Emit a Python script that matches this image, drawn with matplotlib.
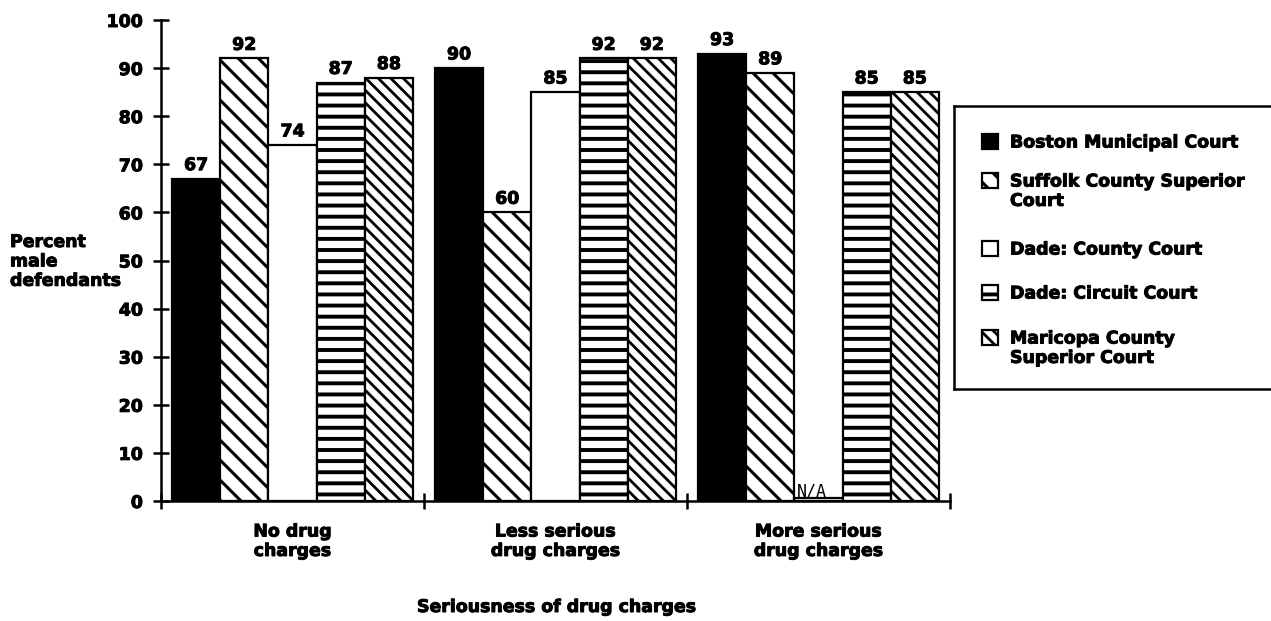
import matplotlib
matplotlib.use("Agg")
import matplotlib.pyplot as plt
import matplotlib.hatch as mhatch
import matplotlib.patheffects as pe
from matplotlib.patches import Rectangle

# ---- data -------------------------------------------------------------
groups = ["No drug\ncharges", "Less serious\ndrug charges", "More serious\ndrug charges"]
courts = [
    "Boston Municipal Court",
    "Suffolk County Superior\nCourt",
    "Dade: County Court",
    "Dade: Circuit Court",
    "Maricopa County\nSuperior Court",
]
boston = [67, 90, 93]
suffolk = [92, 60, 89]
dade_county = [74, 85, None]      # no figure for more serious charges
dade_circuit = [87, 92, 85]
maricopa = [88, 92, 85]
yticks = list(range(0, 101, 10))

series = [boston, suffolk, dade_county, dade_circuit, maricopa]


# ---- hatch patterns: denser rules than the stock ones -----------------
class RuleHatch(mhatch.HorizontalHatch):
    def __init__(self, hatch, density):
        self.num_lines = int(hatch.count("-") * 9)
        self.num_vertices = self.num_lines * 2


class BackslashHatch(mhatch.SouthEastHatch):
    def __init__(self, hatch, density):
        n = hatch.count("\\")
        self.num_lines = 6 * n - 2 if n else 0
        self.num_vertices = (self.num_lines + 1) * 2 if self.num_lines else 0


mhatch._hatch_types = [
    RuleHatch if t is mhatch.HorizontalHatch
    else BackslashHatch if t is mhatch.SouthEastHatch
    else t
    for t in mhatch._hatch_types
]

faces = ["black", "white", "white", "white", "white"]
hatches = [None, "\\\\", None, "-", "\\\\\\"]
hatch_lw = [2.2, 2.2, 2.2, 2.8, 2.0]

FONT = "DejaVu Sans"
FS = 12.5
LS = 1.1
NA_STUB = 0.6
HEAVY = [pe.withStroke(linewidth=0.7, foreground="black")]

plt.rcParams["font.family"] = FONT
plt.rcParams["font.weight"] = "bold"
plt.rcParams["hatch.color"] = "black"
plt.rcParams["hatch.linewidth"] = 2.2

W, H = 1271, 621
fig = plt.figure(figsize=(W / 100, H / 100), dpi=100)
fig.patch.set_facecolor("white")

ax = fig.add_axes([161 / W, 1 - 501 / H, (950 - 161) / W, (501 - 20) / H])

bw = 0.1833
for i, vals in enumerate(series):
    xs = [g + (i - 2) * bw for g in range(len(groups))]
    heights = [NA_STUB if v is None else v for v in vals]
    bars = ax.bar(xs, heights, width=bw, color=faces[i], edgecolor="black",
                  linewidth=1.6, hatch=hatches[i], zorder=2)
    for b in bars:
        if hasattr(b, "set_hatch_linewidth"):
            b.set_hatch_linewidth(hatch_lw[i])
    for x, v, h in zip(xs, vals, heights):
        if v is None:
            ax.annotate("N/A", (x, h), xytext=(-4.5, 1.0), textcoords="offset points",
                        ha="center", va="baseline", fontsize=12,
                        family="DejaVu Sans Mono", fontweight="normal")
        else:
            ax.annotate(f"{v}", (x, h), xytext=(0, 6.2), textcoords="offset points",
                        ha="center", va="baseline", fontsize=FS, fontweight="bold",
                        path_effects=HEAVY)

ax.set_xlim(-0.5, 2.5)
ax.set_ylim(0, 100)
ax.set_yticks(yticks)
ax.set_yticklabels([str(t) for t in yticks], fontsize=FS, fontweight="bold")
ax.set_xticks(range(len(groups)))
ax.set_xticklabels(groups, fontsize=FS, fontweight="bold")
for t in ax.get_xticklabels():
    t.set_linespacing(LS)
for t in ax.get_xticklabels() + ax.get_yticklabels():
    t.set_path_effects(HEAVY)
ax.set_xticks([-0.5, 0.5, 1.5, 2.5], minor=True)

ax.tick_params(axis="y", direction="inout", length=12, width=1.8, pad=7)
ax.tick_params(axis="x", which="major", length=0, pad=15.5)
ax.tick_params(axis="x", which="minor", direction="inout", length=12, width=1.8)

for side in ("top", "right"):
    ax.spines[side].set_visible(False)
for side in ("left", "bottom"):
    ax.spines[side].set_linewidth(1.8)
ax.set_facecolor("none")

# axis titles
fig.text(10 / W, 1 - 233 / H, "Percent\nmale\ndefendants", ha="left", va="top",
         fontsize=FS, fontweight="bold", linespacing=LS, path_effects=HEAVY)
fig.text(417 / W, 1 - 607 / H, "Seriousness of drug charges", ha="left", va="center",
         fontsize=FS, fontweight="bold", path_effects=HEAVY)

# ---- legend box ---------------------------------------------------------
TOP, BOTTOM, LEFT = 106, 389, 954
lax = fig.add_axes([LEFT / W, 1 - BOTTOM / H, 330 / W, (BOTTOM - TOP) / H])
lax.set_xlim(0, 330)
lax.set_ylim(BOTTOM - TOP, 0)
lax.set_xticks([])
lax.set_yticks([])
for s in lax.spines.values():
    s.set_linewidth(1.8)

entry_y = [35, 74, 142, 186, 231]
for i, (label, yc) in enumerate(zip(courts, entry_y)):
    r = Rectangle((28, yc - 7.5), 16, 15, facecolor=faces[i], edgecolor="black",
                  linewidth=1.6, hatch=hatches[i])
    if hasattr(r, "set_hatch_linewidth"):
        r.set_hatch_linewidth(hatch_lw[i])
    lax.add_patch(r)
    lax.text(56, yc - 7.5, label, ha="left", va="top", fontsize=FS,
             fontweight="bold", linespacing=LS, path_effects=HEAVY)

fig.savefig("out.png", dpi=100, facecolor="white")
